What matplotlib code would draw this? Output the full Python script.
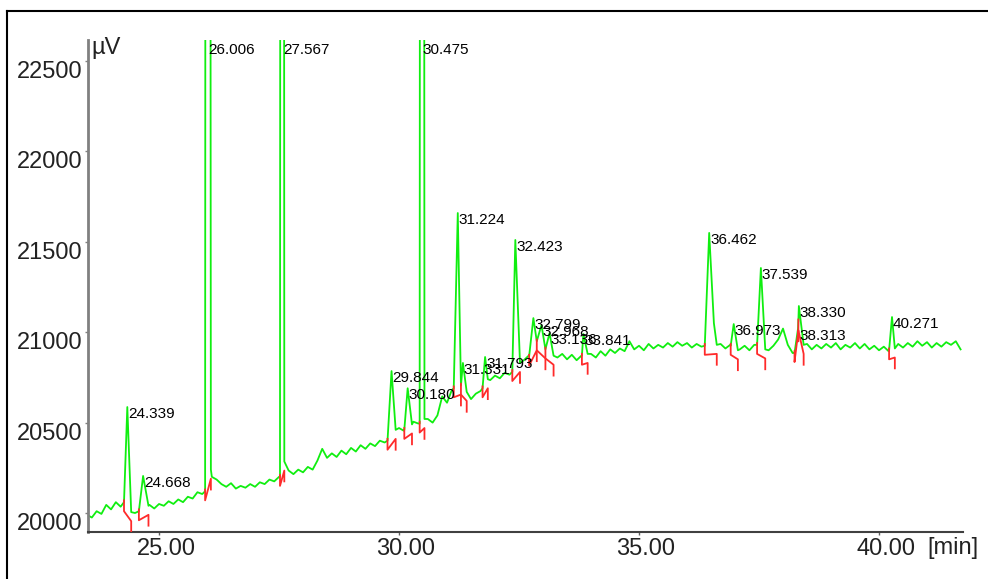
import numpy as np
import matplotlib
matplotlib.use("Agg")
import matplotlib.pyplot as plt
import matplotlib.transforms as mtransforms
from matplotlib.lines import Line2D

plt.rcParams['font.family'] = ['Liberation Sans', 'DejaVu Sans']

# ---- baseline trace, one sample every 0.1 min from 23.5 min ----
base_start = 23.5
base_uv = [
    19990, 19975, 20010, 19995, 20045, 20020, 20060, 20035, 20065, 20010,
    20000, 20020, 20060, 20045, 20025, 20050, 20040, 20065, 20050, 20075,
    20060, 20090, 20080, 20115, 20105, 20150, 20200, 20185, 20160, 20145,
    20165, 20135, 20150, 20140, 20160, 20145, 20170, 20160, 20185, 20175,
    20200, 20250, 20235, 20215, 20240, 20225, 20255, 20240, 20290, 20355,
    20305, 20330, 20310, 20345, 20325, 20360, 20340, 20375, 20355, 20385,
    20370, 20400, 20390, 20420, 20450, 20470, 20455, 20490, 20505, 20495,
    20510, 20520, 20500, 20540, 20645, 20610, 20680, 20690, 20700, 20685,
    20630, 20660, 20675, 20710, 20735, 20760, 20745, 20775, 20765, 20790,
    20830, 20845, 20870, 20900, 20940, 20920, 20900, 20880, 20860, 20880,
    20850, 20875, 20845, 20870, 20875, 20880, 20860, 20895, 20870, 20905,
    20885, 20910, 20895, 20950, 20905, 20925, 20900, 20935, 20910, 20930,
    20915, 20940, 20920, 20945, 20925, 20940, 20915, 20935, 20920, 20925,
    20930, 20935, 20935, 20910, 20930, 20915, 20905, 20925, 20900, 20930,
    20920, 20905, 20900, 20925, 20960, 21020, 20930, 20885, 20900, 20935,
    20935, 20905, 20930, 20910, 20935, 20915, 20940, 20905, 20930, 20915,
    20940, 20910, 20935, 20905, 20925, 20900, 20920, 20895, 20905, 20935,
    20915, 20940, 20920, 20950, 20925, 20945, 20915, 20940, 20920, 20945,
    20930, 20950, 20905,
]

# ---- detected peaks ----
peak_label = ["24.339", "24.668", "26.006", "27.567", "29.844", "30.180", "30.475",
              "31.224", "31.331", "31.793", "32.423", "32.799", "32.968", "33.136",
              "33.841", "36.462", "36.973", "37.539", "38.313", "38.330", "40.271"]
peak_rt = [24.339, 24.668, 26.006, 27.567, 29.844, 30.180, 30.475,
           31.224, 31.331, 31.793, 32.423, 32.799, 32.968, 33.136,
           33.841, 36.462, 36.973, 37.539, 38.313, 38.330, 40.271]
peak_uv = [20586, 20205, 48000, 48000, 20785, 20690, 48000,
           21659, 20830, 20863, 21510, 21078, 21040, 20995,
           20990, 21549, 21045, 21355, 21020, 21145, 21084]
start_t = [24.27, 24.58, 25.96, 27.52, 29.76, 30.11, 30.43,
           31.14, 31.29, 31.74, 32.36, 32.71, 32.87, 33.05,
           33.81, 36.37, 36.91, 37.46, 38.24, 38.32, 40.21]
start_uv = [20060, 20010, 20120, 20200, 20400, 20460, 20495,
            20690, 20705, 20690, 20780, 20865, 20950, 20905,
            20870, 20925, 20925, 20930, 20885, 21060, 20900]
end_t = [24.42, 24.78, 26.08, 27.61, 29.93, 30.27, 30.53,
         31.29, 31.41, 31.85, 32.52, 32.87, 33.05, 33.22,
         33.93, 36.62, 37.06, 37.63, 38.32, 38.43, 40.33]
end_uv = [20005, 20040, 20240, 20285, 20460, 20490, 20520,
          20705, 20670, 20740, 20830, 20950, 20905, 20870,
          20880, 20930, 20900, 20905, 21060, 20930, 20910]

# peak tail shoulders
shoulder_t = [36.56]
shoulder_uv = [21050]

y_ticks = [20000, 20500, 21000, 21500, 22000, 22500]
x_ticks = [25, 30, 35, 40]
x_ticklabels = ["25.00", "30.00", "35.00", "40.00"]

XMIN, XMAX = 23.52, 41.75
YMIN, YMAX = 19895, 22616

# ---- assemble the trace ----
base_t = np.round(base_start + 0.1 * np.arange(len(base_uv)), 2)
pts = []
for t, v in zip(base_t, base_uv):
    if any(s < t < e for s, e in zip(start_t, end_t)):
        continue
    pts.append((float(t), v))
pts += list(zip(start_t, start_uv)) + list(zip(peak_rt, peak_uv))
pts += list(zip(end_t, end_uv)) + list(zip(shoulder_t, shoulder_uv))
pts.sort()
trace_t = [p[0] for p in pts]
trace_v = [p[1] for p in pts]

fig = plt.figure(figsize=(9.88, 5.79), dpi=100)
ax = fig.add_axes([88 / 988, 1 - 532 / 579, 875 / 988, 492 / 579])

ax.plot(trace_t, trace_v, color="#10ee10", lw=1.3, zorder=2)

# integration marks
for s, sv, e, ev in zip(start_t, start_uv, end_t, end_uv):
    ax.plot([s, s, e, e], [sv + 10, sv - 50, ev - 50, ev - 110],
            color="#ff2a2a", lw=1.3, zorder=3)

# peak labels
for lab, rt, v in zip(peak_label, peak_rt, peak_uv):
    ax.annotate(lab, xy=(rt, min(v, YMAX - 15)), xytext=(1, 0),
                textcoords="offset pixels", ha="left", va="top",
                fontsize=11, color="black", zorder=4, clip_on=False)

ax.set_xlim(XMIN, XMAX)
ax.set_ylim(YMIN, YMAX)

for side in ["top", "right"]:
    ax.spines[side].set_visible(False)
ax.spines["left"].set_color("#808080")
ax.spines["left"].set_linewidth(2)
ax.spines["bottom"].set_color("#404040")
ax.spines["bottom"].set_linewidth(1.5)

ax.set_yticks(y_ticks)
ax.set_yticklabels([str(v) for v in y_ticks])
ax.set_xticks(x_ticks)
ax.set_xticklabels(x_ticklabels)
ax.tick_params(axis="y", length=2, width=1, color="#808080", pad=2,
               labelsize=17, labelcolor="#222222")
ax.tick_params(axis="x", length=2, width=1, color="#606060", pad=2,
               labelsize=17, labelcolor="#222222")
for lbl in ax.get_yticklabels():
    lbl.set_va("top")
offset = mtransforms.ScaledTranslation(0.07, 0, fig.dpi_scale_trans)
for lbl in ax.get_xticklabels():
    lbl.set_transform(lbl.get_transform() + offset)

ax.annotate("[min]", xy=(40, 0), xycoords=ax.get_xaxis_transform(),
            xytext=(48, -5), textcoords="offset pixels",
            ha="left", va="top", fontsize=17, color="#222222")
ax.annotate("µV", xy=(0, 1), xycoords="axes fraction",
            xytext=(3, 3), textcoords="offset pixels",
            ha="left", va="top", fontsize=17, color="#222222")

# frame around the plot window
fig.add_artist(Line2D([7 / 988, 1], [1 - 11 / 579] * 2, color="black", lw=1.5))
fig.add_artist(Line2D([7 / 988] * 2, [0, 1 - 11 / 579], color="black", lw=1.5))

fig.savefig("out.png", dpi=100)
plt.close(fig)
